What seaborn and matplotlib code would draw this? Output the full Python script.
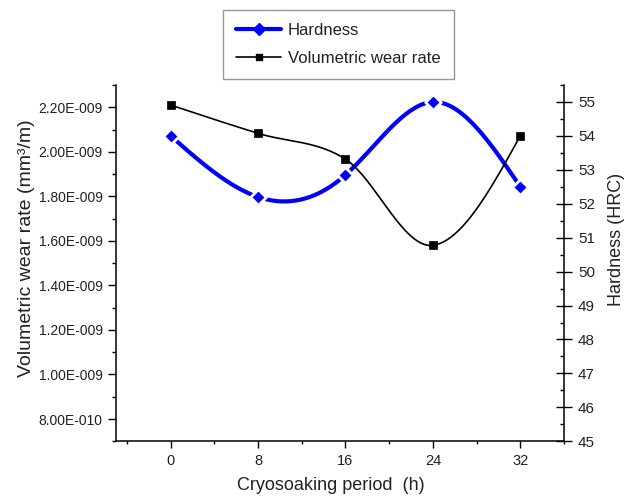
import numpy as np
import pandas as pd
import matplotlib
matplotlib.use("Agg")
import matplotlib.pyplot as plt
import seaborn as sns
from matplotlib.ticker import MultipleLocator, FuncFormatter
from matplotlib.lines import Line2D

# ---- data ----
period_h = [0, 8, 16, 24, 32]
hardness_hrc = [54.0, 52.2, 52.85, 55.0, 52.5]
wear_rate = [2.21e-9, 2.083e-9, 1.967e-9, 1.58e-9, 2.072e-9]
x_ticks = [0, 8, 16, 24, 32]
legend_labels = ["Hardness", "Volumetric wear rate"]


def _hermite(x, y, t, num):
    n = len(x)
    xs = np.linspace(x[0], x[-1], num)
    ys = np.empty_like(xs)
    for k, xv in enumerate(xs):
        i = min(np.searchsorted(x, xv, side="right") - 1, n - 2)
        h = x[i + 1] - x[i]
        u = (xv - x[i]) / h
        h00 = 2 * u ** 3 - 3 * u ** 2 + 1
        h10 = u ** 3 - 2 * u ** 2 + u
        h01 = -2 * u ** 3 + 3 * u ** 2
        h11 = u ** 3 - u ** 2
        ys[k] = h00 * y[i] + h10 * h * t[i] + h01 * y[i + 1] + h11 * h * t[i + 1]
    return xs, ys


def natural_spline(x, y, num=400):
    """Smooth connecting curve: natural cubic spline through the points."""
    x = np.asarray(x, float)
    y = np.asarray(y, float)
    n = len(x)
    h = np.diff(x)
    A = np.zeros((n, n))
    b = np.zeros(n)
    A[0, 0] = A[-1, -1] = 1
    for i in range(1, n - 1):
        A[i, i - 1] = h[i - 1]
        A[i, i] = 2 * (h[i - 1] + h[i])
        A[i, i + 1] = h[i]
        b[i] = 6 * ((y[i + 1] - y[i]) / h[i] - (y[i] - y[i - 1]) / h[i - 1])
    M = np.linalg.solve(A, b)
    t = np.zeros(n)
    for i in range(n - 1):
        t[i] = (y[i + 1] - y[i]) / h[i] - h[i] * (2 * M[i] + M[i + 1]) / 6
    t[-1] = (y[-1] - y[-2]) / h[-1] + h[-1] * (M[-2] + 2 * M[-1]) / 6
    return _hermite(x, y, t, num)


def cardinal_spline(x, y, num=400):
    """Smooth connecting curve: cubic Hermite with Catmull-Rom tangents."""
    x = np.asarray(x, float)
    y = np.asarray(y, float)
    n = len(x)
    t = np.zeros(n)
    for i in range(1, n - 1):
        t[i] = (y[i + 1] - y[i - 1]) / (x[i + 1] - x[i - 1])
    s0 = (y[1] - y[0]) / (x[1] - x[0])
    s1 = (y[-1] - y[-2]) / (x[-1] - x[-2])
    t[0] = (3 * s0 - t[1]) / 2
    t[-1] = (3 * s1 - t[-2]) / 2
    return _hermite(x, y, t, num)


def sci_fmt(v, pos):
    m, e = f"{v:.2E}".split("E")
    ei = int(e)
    return f"{m}E{'-' if ei < 0 else '+'}{abs(ei):03d}"


sns.set_theme(style="ticks")
plt.rcParams["font.family"] = ["Liberation Sans", "DejaVu Sans"]

BLUE = "#0000ff"

fig = plt.figure(figsize=(6.26, 4.96), dpi=100)
ax = fig.add_axes([0.1853, 0.1103, 0.7157, 0.7183])
ax2 = ax.twinx()

# hardness (right axis, blue)
hx, hy = natural_spline(period_h, hardness_hrc)
sns.lineplot(x=hx, y=hy, ax=ax2, color=BLUE, linewidth=3, legend=False,
             estimator=None, sort=False)
sns.scatterplot(x=period_h, y=hardness_hrc, ax=ax2, marker="D", s=64,
                color=BLUE, edgecolor="white", linewidth=2, legend=False,
                zorder=5)

# wear rate (left axis, black)
wx, wy = cardinal_spline(period_h, wear_rate)
sns.lineplot(x=wx, y=wy, ax=ax, color="black", linewidth=1.2, legend=False,
             estimator=None, sort=False)
sns.scatterplot(x=period_h, y=wear_rate, ax=ax, marker="s", s=30,
                color="black", edgecolor="black", linewidth=0.5, legend=False,
                zorder=5)

ax.set_zorder(ax2.get_zorder() + 1)
ax.patch.set_visible(False)

# axes limits and ticks
ax.set_xlim(-5, 36)
ax.set_ylim(0.7e-9, 2.3e-9)
ax2.set_ylim(45, 55.5)
ax.set_xticks(x_ticks)
ax.xaxis.set_minor_locator(MultipleLocator(4))
ax.yaxis.set_major_locator(MultipleLocator(0.2e-9))
ax.yaxis.set_minor_locator(MultipleLocator(0.1e-9))
ax.yaxis.set_major_formatter(FuncFormatter(sci_fmt))
ax2.yaxis.set_major_locator(MultipleLocator(1))
ax2.yaxis.set_minor_locator(MultipleLocator(0.5))

for a in (ax, ax2):
    for s in a.spines.values():
        s.set_linewidth(1.1)
        s.set_color("black")
ax.spines["top"].set_visible(False)
ax.spines["right"].set_visible(False)
ax2.spines["top"].set_visible(False)
ax2.spines["left"].set_visible(False)
ax2.spines["bottom"].set_visible(False)

ax.tick_params(axis="y", which="major", direction="out", length=5.5, width=1,
               labelsize=10, pad=4, colors="black", labelcolor="#222222")
ax.tick_params(axis="y", which="minor", direction="out", length=3, width=1,
               colors="black")
ax.tick_params(axis="x", which="major", direction="out", length=4.8, width=1,
               labelsize=10.5, pad=4, colors="black", labelcolor="#222222")
ax.tick_params(axis="x", which="minor", direction="out", length=2.4, width=1,
               colors="black")
ax2.tick_params(axis="y", which="major", direction="inout", length=11, width=1,
                labelsize=11, pad=4.5, colors="black", labelcolor="#222222")
ax2.tick_params(axis="y", which="minor", direction="in", length=3, width=1,
                colors="black")

ax.set_xlabel("Cryosoaking period  (h)", fontsize=13, color="#222222")
ax.set_ylabel("Volumetric wear rate (mm³/m)", fontsize=14, color="#222222")
ax2.set_ylabel("Hardness (HRC)", fontsize=13, color="#222222")
ax.xaxis.set_label_coords(0.479, -0.100)
ax.yaxis.set_label_coords(-0.181, 0.543)
ax2.yaxis.set_label_coords(1.098, 0.567)

handles = [
    Line2D([], [], color=BLUE, linewidth=3, marker="D", markersize=6),
    Line2D([], [], color="black", linewidth=1.2, marker="s", markersize=5),
]
leg = fig.legend(handles, legend_labels, loc="upper center",
                 bbox_to_anchor=(0.5407, 0.980), borderaxespad=0,
                 fontsize=12, frameon=True, fancybox=False, handlelength=2.7,
                 labelspacing=0.75, borderpad=0.8, handletextpad=0.4)
leg.get_frame().set_edgecolor("#7f7f7f")
leg.get_frame().set_linewidth(1.0)
for t in leg.get_texts():
    t.set_color("#222222")

fig.savefig("out.png", dpi=100)
